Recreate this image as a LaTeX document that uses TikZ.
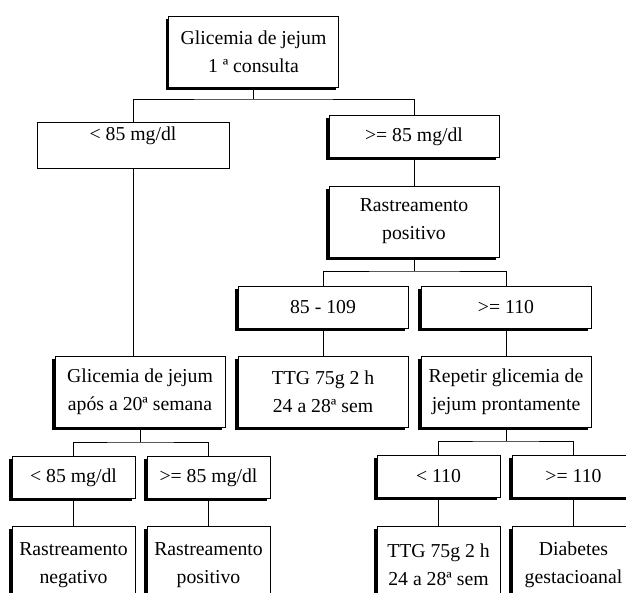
\documentclass[tikz,border=0pt]{standalone}
\usepackage{fontspec}
\setmainfont{Liberation Serif}
\usepackage{tikz}
\usetikzlibrary{shadows}
\newcommand{\wideboxsize}{127.5pt}
\newcommand{\narrowboxsize}{92.25pt}
\newcommand{\tallboxsize}{53.25pt}
\newcommand{\flatboxsize}{31.5pt}
\tikzstyle{plainbox}=[draw, fill=white, line width=0.6pt, align=center, inner sep=0, minimum width=\wideboxsize, minimum height=\tallboxsize]
\tikzstyle{shadowbox}=[plainbox, drop shadow={shadow xshift=-1.9pt, shadow yshift=-1.9pt, fill=black, opacity=1}]
\tikzstyle{flatbox}=[shadowbox, minimum height=\flatboxsize]
\tikzstyle{narrowbox}=[shadowbox, minimum width=\narrowboxsize, minimum height=58.5pt]
\tikzstyle{smallbox}=[flatbox, minimum width=\narrowboxsize]
\tikzstyle{openbox}=[plainbox, minimum width=144pt, minimum height=0pt, text height=13.5pt, text depth=21pt]
\tikzstyle{flowchart}=[x=0.75pt, y=-0.75pt, line width=0.6pt,
                       % Text in every box.
                       every node/.style={font=\fontsize{14.8pt}{21pt}\selectfont}]

\begin{document}
\begin{tikzpicture}[flowchart]
    \useasboundingbox (0,0) rectangle (626,593);
    \clip (0,0) rectangle (626,593);
    \node[shadowbox] (top) at (253.5,51.5) {Glicemia de jejum\\1 ª consulta};
    \node[openbox] (lt) at (133,145) {< 85 mg/dl};
    \node[flatbox] (ge) at (414,136.5) {>= 85 mg/dl};
    \node[shadowbox] (rp) at (414,221.5) {Rastreamento\\positivo};
    \node[flatbox] (r85) at (323,307) {85 - 109};
    \node[flatbox] (r110) at (506,307) {>= 110};
    \node[shadowbox] (gj20) at (140,391.5) {Glicemia de jejum\\após a 20ª semana};
    \node[shadowbox] (ttgA) at (323,391.5) {TTG 75g 2 h\\24 a 28ª sem};
    \node[shadowbox] (rep) at (506,391.5) {Repetir glicemia de\\jejum prontamente};
    \node[smallbox] (l85) at (73.5,477.5) {< 85 mg/dl};
    \node[smallbox] (g85) at (208.5,477.5) {>= 85 mg/dl};
    \node[smallbox] (l110) at (438.5,476.5) {< 110};
    \node[smallbox] (g110) at (573.5,476.5) {>= 110};
    \node[narrowbox] (neg) at (73.5,565) {Rastreamento\\negativo};
    \node[narrowbox] (pos) at (208.5,565) {Rastreamento\\positivo};
    \node[narrowbox] (ttgB) at (438.5,565) {TTG 75g 2 h\\24 a 28ª sem};
    \node[narrowbox] (diab) at (573.5,565) {Diabetes\\gestacioanal};
    \coordinate (bus1) at (253.5,99);
    \coordinate (bus2) at (414,271);
    \coordinate (bus3) at (140,442);
    \coordinate (bus4) at (506,441);
    \draw (top.south) -- (bus1);
    \draw (lt.north) |- (bus1) -| (ge.north);
    \draw (lt.south) -- (lt.south |- gj20.north);
    \draw (ge.south) -- (rp.north);
    \draw (rp.south) -- (bus2);
    \draw (r85.north) |- (bus2) -| (r110.north);
    \draw (r85.south) -- (ttgA.north);
    \draw (r110.south) -- (rep.north);
    \draw (gj20.south) -- (bus3);
    \draw (l85.north) |- (bus3) -| (g85.north);
    \draw (rep.south) -- (bus4);
    \draw (l110.north) |- (bus4) -| (g110.north);
    \draw (l85.south) -- (neg.north);
    \draw (g85.south) -- (pos.north);
    \draw (l110.south) -- (ttgB.north);
    \draw (g110.south) -- (diab.north);
\end{tikzpicture}
\end{document}
